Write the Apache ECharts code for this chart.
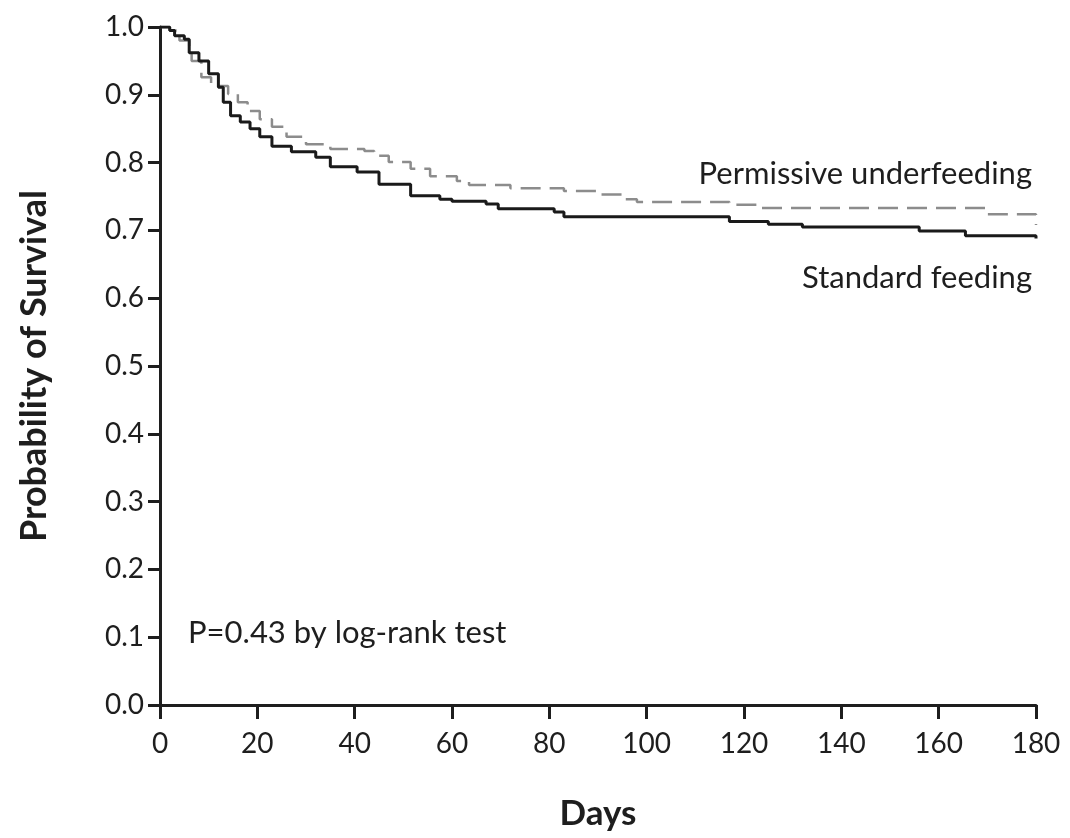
<!DOCTYPE html>
<html>
<head>
<meta charset="utf-8">
<script src="https://cdn.jsdelivr.net/npm/echarts@6/dist/echarts.min.js"></script>
<style>
  html, body { margin: 0; padding: 0; background: #fff; }
  #survival-chart { width: 1070px; height: 838px; }
</style>
</head>
<body>
<div id="survival-chart"></div>
<script>
// Kaplan-Meier steps (day, survival from that day on)
const standardDays = [0, 2, 3, 5, 6, 8, 10, 12, 13, 14.5, 16.5, 18.5, 20.5, 23, 27, 32, 35, 40.5, 45, 51.5, 57.5, 60, 67, 69.5, 81, 83, 117, 125, 132, 156, 165.5, 180]
const standardSurv = [1.0, 0.995, 0.987, 0.982, 0.962, 0.95, 0.931, 0.911, 0.889, 0.869, 0.86, 0.85, 0.838, 0.824, 0.816, 0.808, 0.794, 0.786, 0.768, 0.751, 0.746, 0.743, 0.739, 0.732, 0.727, 0.72, 0.713, 0.709, 0.705, 0.699, 0.692, 0.688]

const permissiveDays = [0, 2, 4, 6, 6.5, 8.5, 10.5, 14, 16, 18, 20.5, 23, 26, 30, 35, 42, 44, 47, 51.5, 55.5, 61, 63.5, 72, 83, 90, 95, 98, 117, 123, 170, 179.5, 180]
const permissiveSurv = [1.0, 0.995, 0.98, 0.972, 0.95, 0.926, 0.913, 0.901, 0.889, 0.876, 0.864, 0.853, 0.838, 0.827, 0.82, 0.817, 0.81, 0.801, 0.791, 0.78, 0.773, 0.767, 0.762, 0.758, 0.753, 0.746, 0.742, 0.738, 0.733, 0.724, 0.724, 0.708]

const xTicks = [0, 20, 40, 60, 80, 100, 120, 140, 160, 180]
const yTicks = [0.0, 0.1, 0.2, 0.3, 0.4, 0.5, 0.6, 0.7, 0.8, 0.9, 1.0]

const textColor = '#1e1e1e'
const fontFamily = 'Lato, "Open Sans", sans-serif'

const chart = echarts.init(document.getElementById('survival-chart'))

const pairs = (xs, ys) => xs.map((x, i) => [x, ys[i]])

chart.setOption({
  animation: false,
  textStyle: { fontFamily: fontFamily, color: textColor },
  grid: { left: 160, right: 34, top: 27, bottom: 133 },
  xAxis: {
    type: 'value',
    min: 0,
    max: 180,
    interval: 20,
    name: 'Days',
    nameLocation: 'middle',
    nameGap: 91,
    nameTextStyle: { fontSize: 35, fontWeight: 'bold', color: textColor, fontFamily: fontFamily },
    axisLine: { onZero: false, lineStyle: { color: '#1e1e1e', width: 3 } },
    axisTick: { show: true, length: 14, lineStyle: { color: '#1e1e1e', width: 3 } },
    axisLabel: {
      margin: 25,
      fontSize: 28,
      color: textColor,
      formatter: (v) => (xTicks.includes(v) ? String(v) : ''),
    },
    splitLine: { show: false },
  },
  yAxis: {
    type: 'value',
    min: 0,
    max: 1,
    interval: 0.1,
    name: 'Probability of Survival',
    nameLocation: 'middle',
    nameGap: 108,
    nameRotate: 90,
    nameTextStyle: { fontSize: 36, fontWeight: 'bold', color: textColor, fontFamily: fontFamily },
    axisLine: { show: true, lineStyle: { color: '#1e1e1e', width: 3 } },
    axisTick: { show: true, length: 12, lineStyle: { color: '#1e1e1e', width: 3 } },
    axisLabel: {
      margin: 16,
      fontSize: 28,
      color: textColor,
      formatter: (v) => {
        const t = yTicks.find((y) => Math.abs(y - v) < 1e-6)
        return t === undefined ? '' : t.toFixed(1)
      },
    },
    splitLine: { show: false },
  },
  series: [
    {
      name: 'Permissive underfeeding',
      type: 'line',
      step: 'end',
      symbol: 'none',
      data: pairs(permissiveDays, permissiveSurv),
      lineStyle: { color: '#8c8c8c', width: 2.5, type: [20, 9] },
      z: 2,
    },
    {
      name: 'Standard feeding',
      type: 'line',
      step: 'end',
      symbol: 'none',
      data: pairs(standardDays, standardSurv),
      lineStyle: { color: '#1a1a1a', width: 3 },
      z: 3,
    },
  ],
  graphic: [
    {
      type: 'text',
      x: 1032,
      y: 174,
      style: { text: 'Permissive underfeeding', font: '31px ' + fontFamily, fill: textColor, align: 'right', verticalAlign: 'middle' },
    },
    {
      type: 'text',
      x: 1032,
      y: 278,
      style: { text: 'Standard feeding', font: '31px ' + fontFamily, fill: textColor, align: 'right', verticalAlign: 'middle' },
    },
    {
      type: 'text',
      x: 188,
      y: 633,
      style: { text: 'P=0.43 by log-rank test', font: '31px ' + fontFamily, fill: textColor, align: 'left', verticalAlign: 'middle' },
    },
  ],
})
</script>
</body>
</html>
